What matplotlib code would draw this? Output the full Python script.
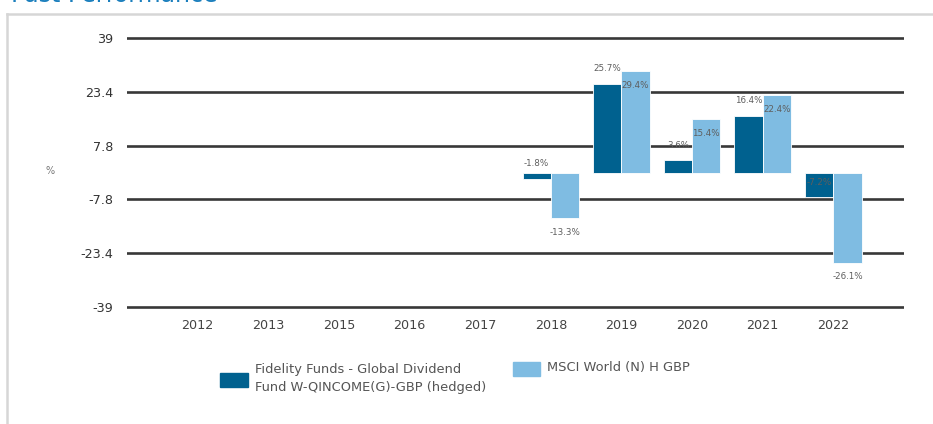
import matplotlib
matplotlib.use("Agg")
import matplotlib.pyplot as plt
from matplotlib.lines import Line2D
from matplotlib.patches import Rectangle

# ---- data ----
years = ["2012", "2013", "2015", "2016", "2017", "2018", "2019", "2020", "2021", "2022"]
fund = [None, None, None, None, None, -1.8, 25.7, 3.6, 16.4, -7.2]
index = [None, None, None, None, None, -13.3, 29.4, 15.4, 22.4, -26.1]
yticks = [39, 23.4, 7.8, -7.8, -23.4, -39]
ytick_labels = ["39", "23.4", "7.8", "-7.8", "-23.4", "-39"]
fund_name = "Fidelity Funds - Global Dividend\nFund W-QINCOME(G)-GBP (hedged)"
index_name = "MSCI World (N) H GBP"
title = "Past Performance"

DARK = "#00618F"
LIGHT = "#7FBCE2"

W, H = 933, 424
fig = plt.figure(figsize=(W / 100, H / 100), dpi=100)

def fx(px):
    return px / W

def fy(py):
    return 1 - py / H

ax = fig.add_axes([fx(127), fy(315), fx(904) - fx(127), (315 - 30) / H])
ax.set_xlim(-1, len(years))
ax.set_ylim(-41.32, 41.32)
for s in ax.spines.values():
    s.set_visible(False)

for v in yticks:
    ax.axhline(v, color="#383838", lw=1.9, zorder=1)

bw = 0.4
x = list(range(len(years)))
for i, (f, m) in enumerate(zip(fund, index)):
    if f is not None:
        ax.bar(i - bw / 2, f, width=bw, color=DARK, edgecolor="white", linewidth=0.6, zorder=2)
        ax.annotate(f"{f}%", (i - bw / 2, f), xytext=(0, 10.8), textcoords="offset points",
                    ha="center", va="center", fontsize=6.3, color="#5e5e5e", zorder=3)
    if m is not None:
        ax.bar(i + bw / 2, m, width=bw, color=LIGHT, edgecolor="white", linewidth=0.6, zorder=2)
        ax.annotate(f"{m}%", (i + bw / 2, m), xytext=(0, -10.2), textcoords="offset points",
                    ha="center", va="center", fontsize=6.3, color="#5e5e5e", zorder=3)

ax.set_xticks(x)
ax.set_xticklabels(years, fontsize=9.2, color="#444444")
ax.set_yticks(yticks)
ax.set_yticklabels(ytick_labels, fontsize=9.2, color="#333333")
ax.tick_params(axis="both", length=0)
ax.tick_params(axis="x", pad=3)
ax.tick_params(axis="y", pad=10)

# "%" axis label
fig.text(fx(50), fy(171), "%", fontsize=7, color="#777777", ha="center", va="center")

# frame lines
fig.add_artist(Line2D([fx(7), 1.0], [fy(13.5), fy(13.5)], color="#d6d6d6", lw=1.8, transform=fig.transFigure))
fig.add_artist(Line2D([fx(7.5), fx(7.5)], [fy(13.5), 0], color="#d6d6d6", lw=1.8, transform=fig.transFigure))

# cut-off title (only its lower edge is visible in the reference)
fig.text(fx(11), fy(2.5), title, fontsize=17, color="#1B7FBD", ha="left", va="baseline")

# legend (manual)
fig.add_artist(Rectangle((fx(220), fy(387)), fx(248) - fx(220), (387 - 373) / H,
                         transform=fig.transFigure, color=DARK))
fig.text(fx(255), fy(378), fund_name, fontsize=9.4, color="#555555", ha="left", va="center",
         linespacing=1.5)
fig.add_artist(Rectangle((fx(513), fy(376)), fx(540) - fx(513), (376 - 362) / H,
                         transform=fig.transFigure, color=LIGHT))
fig.text(fx(547), fy(368), index_name, fontsize=9.4, color="#555555", ha="left", va="center")

fig.savefig("out.png", dpi=100)
